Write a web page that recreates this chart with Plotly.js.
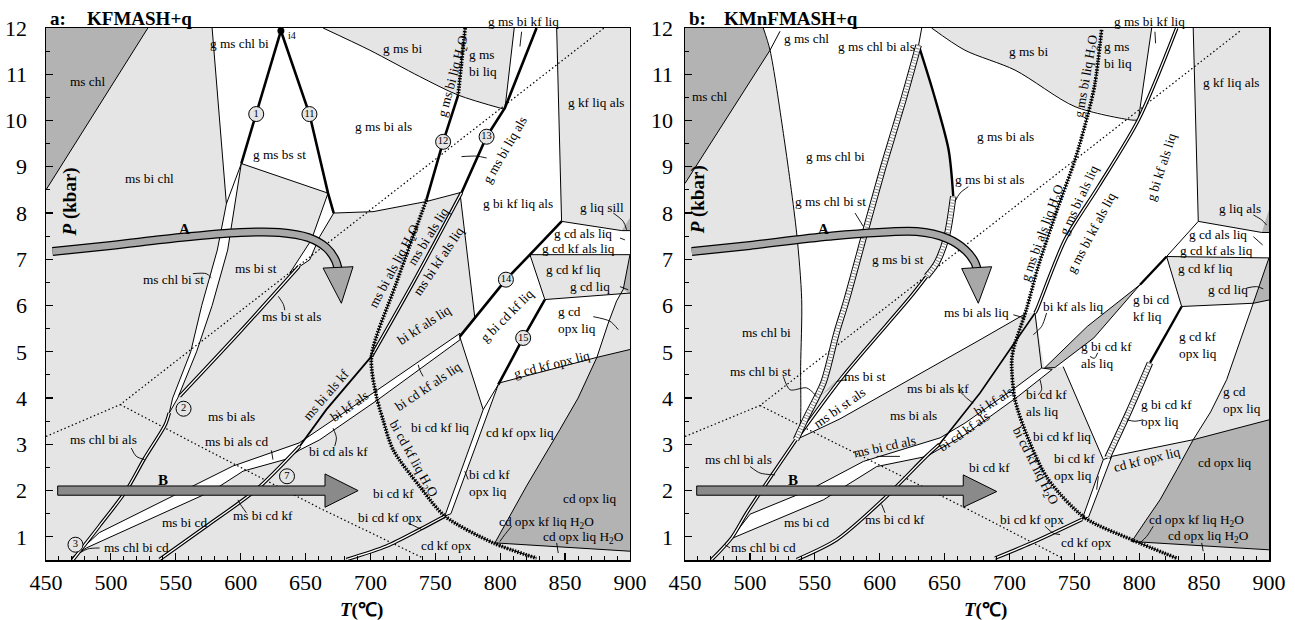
<!DOCTYPE html>
<html><head><meta charset="utf-8">
<script src="https://cdn.plot.ly/plotly-3.0.1.min.js"></script>
<style>html,body{margin:0;padding:0;background:#fff}#chart{width:1295px;height:620px}</style>
</head><body><div id="chart"></div>
<script>
// ================= PANEL a : KFMASH+q  (points are [T °C, P kbar]) =================
const aDarkChl = [[450,8.5],[528.5,12],[450,12]];
const aWhiteTop = [[578,12],[663.5,12],[699.5,11.52],[738,10.95],[767.6,10.55],[803.6,10.24],[789.5,9.65],[770.2,8.44],[743.2,8.25],[702,8.03],[671.7,8.0],[667.3,8.43],[600.5,9.07],[589,8.2]];
const aWhiteRight = [[810.8,12],[843.5,12],[847.3,7.82],[822.9,7.1],[780.5,5.72],[769,8.44],[789.5,9.65],[803.6,10.27]];
const aWhiteGcd = [[847.3,7.82],[893.6,7.62],[900,7.62],[900,7.1],[822.9,7.1]];
const aWhiteBiCd = [[768.8,5.33],[822.9,7.1],[834.4,6.13],[892.3,6.25],[883,5.6],[874.5,4.88],[799.7,4.33],[798.5,4.29],[786.9,3.75]];
const aBandChlSt = [[589,8.2],[582,7.2],[570,6.0],[561.5,5.0],[547.6,4.0],[545,3.68],[551.5,4.0],[566,5.0],[578,6.0],[590,7.2],[600.5,9.07]];
const aBandStAls = [[667.3,8.43],[654.5,7.42],[637.8,6.70],[653.2,6.99],[660.9,7.49],[671.7,8.0]];
const aBandLow = [[470,0.55],[491,1.09],[594,2.53],[645,3.03],[702,4.11],[769,5.4],[769,5.26],[706,3.97],[661,3.1],[645,2.87],[635.2,2.68],[601.8,2.42],[578.6,2.0],[481,0.76]];
const aBandOpx = [[786.9,3.75],[757.3,1.45],[762,1.5],[798.5,4.29]];
const aDarkOpx = [[874.5,4.88],[900,5.05],[900,0.69],[795.9,0.87],[820.3,2.1],[846,3.32],[860,4.0]];
const aDarkSill = [[893.6,7.62],[900,7.9],[900,7.62]];
const aDarkGcd = [[900,7.06],[894.8,6.35],[900,6.25]];

const aThin = [
  [[578,12],[589,8.2]],
  [[600.5,9.07],[667.3,8.43]],
  [[671.7,8.0],[702,8.03],[743.2,8.25],[769,8.44]],
  [[810.8,12],[803.6,10.24]],
  [[843.5,12],[847.3,7.82],[893.6,7.62],[900,7.62]],
  [[822.9,7.1],[900,7.1]],
  [[822.9,7.1],[834.4,6.13],[900,6.27]],
  [[769,8.44],[780.5,5.72]],
  [[768.8,5.33],[786.9,3.75]],
  [[799.7,4.33],[874.5,4.88],[900,5.05]],
  [[900,7.1],[894.8,6.35],[889.7,6.1],[883,5.6],[874.5,4.88],[860,4.0],[846,3.32],[820.3,2.1],[795.9,0.87]],
  [[795.9,0.87],[900,0.69]]
];
const aCurveGmsbi = [[663.5,12],[699.5,11.52],[738,10.95],[767.6,10.55],[803.6,10.24]];
const aThick = [
  [[631,11.94],[612,10.14],[600.5,9.07]],
  [[631,11.94],[653,10.14],[667.3,8.43],[671.7,8.0]],
  [[767.6,10.55],[756,9.54],[743.2,8.29]],
  [[828,12],[803.6,10.27],[789.5,9.65],[770.2,8.44]],
  [[768.8,5.33],[804.4,6.56],[822.9,7.1],[847.3,7.82]],
  [[834.4,6.13],[817.7,5.3],[798.5,4.29]]
];
const aMedium = [[[700.8,4.9],[666,3.75],[645.5,2.96]]];
const aDouble = [
  [[770.2,8.44],[735,6.6],[700.8,4.9]],
  [[645,6.85],[600,5.45],[553,4.04]],
  [[545,3.68],[542,3.43],[526,2.7],[511.8,2.0],[491,1.23],[470.7,0.5]],
  [[645.5,2.96],[612,2.02],[573.5,1.23],[537.5,0.51]],
  [[757.3,1.45],[738,1.16],[712.4,0.8],[681.5,0.51]]
];
const aSolidus = [
  [[773,12],[770,11.2],[767.6,10.55]],
  [[743.2,8.29],[720,6.49],[700.8,4.9],[704.6,4.04],[709.7,3.53],[717.5,2.88],[738,2.09],[757.3,1.45],[794.6,0.87],[828,0.54]]
];
const aDotted = [
  [[450,3.17],[507.2,3.86],[880,12]],
  [[507.2,3.86],[568.4,2.96],[661,1.62],[740,0.55]]
];
const aArrowA = [[455,7.17],[500,7.3],[553,7.47],[600,7.58],[630,7.58],[652,7.47],[666,7.25],[673,6.98],[675,6.8]];
const aArrowAHead = [[663.5,6.81],[686.6,6.84],[677.6,6.05]];
const aArrowB = [[459,2.1],[665,2.1],[665,2.36],[690.5,2.0],[665,1.64],[665,1.9],[459,1.9]];
const aLeaders = [
  [[563.2,6.69],[573.5,6.69],[577.4,6.6]],
  [[629,6.2],[633,6.02],[634,5.9]],
  [[515.7,2.92],[519.6,2.74],[526,2.67]],
  [[623.7,2.87],[624.9,2.67]],
  [[491.3,0.76],[482.2,0.74],[475.8,0.65]],
  [[604.4,1.52],[599.2,1.73],[597.9,1.8]],
  [[672.5,2.96],[673.8,3.14],[671.2,3.35]],
  [[740.6,4.47],[738,4.61],[736.8,4.72]],
  [[772.7,2.42],[775.3,2.24]],
  [[729,1.3],[734.2,1.23],[739.4,1.16]],
  [[808.8,1.23],[803.6,1.05],[799.7,0.9]],
  [[843.5,0.87],[844.7,0.65]],
  [[871.7,5.76],[884.6,5.66],[891,5.48]],
  [[887.1,8.0],[894.8,7.82],[897.4,7.64]],
  [[892.3,7.46],[896.1,7.42]],
  [[892.3,6.41],[898.7,6.34]],
  [[770.2,9.22],[781.8,9.23],[789.5,9.19]],
  [[816.5,11.92],[815.2,11.6]]
];
const aCircleNames = ['1','11','12','13','14','15','2','7','3'];
const aCircleT = [612,653,756,789.5,804.4,817.7,556,635.7,472.7];
const aCircleP = [10.14,10.14,9.54,9.65,6.56,5.3,3.77,2.31,0.83];
const aLabels = [
  ['ms chl',482,10.84,0],['ms bi chl',530,8.75,0],['g ms chl bi',599,11.67,0],['g ms bs st',630,9.26,0],
  ['ms chl bi st',548,6.56,0],['ms bi st',612,6.8,0],['ms bi st als',639,5.77,0],['ms bi als',593,3.6,0],
  ['ms chl bi als',494,3.1,0],['ms bi als cd',597,3.07,0],['bi cd als kf',675.6,2.84,0],['ms bi cd',556.8,1.3,0],
  ['ms chl bi cd',519.5,0.78,0],['ms bi cd kf',617.2,1.46,0],['bi cd kf',717.5,1.93,0],['bi cd kf opx',715,1.41,0],
  ['cd kf opx',758.6,0.81,0],['cd opx liq',869.2,1.84,0],['cd opx kf liq H<sub>2</sub>O',835.7,1.32,0],
  ['cd opx liq H<sub>2</sub>O',864,0.98,0],['bi cd kf<br>opx liq',792,2.17,0],['cd kf opx liq',815.2,3.26,0],
  ['bi cd kf liq',753.5,3.37,0],['bi cd kf als liq',744.4,4.25,-34],['bi kf als liq',741.9,5.58,-33],
  ['bi cd kf liq H<sub>2</sub>O',732.9,2.67,61],['g cd kf opx liq',839.6,4.72,-14],['g cd<br>opx liq',858.9,5.69,0],
  ['g bi cd kf liq',805.4,5.78,-45],['g cd kf liq',856.3,6.77,0],['g cd liq',869.2,6.41,0],['g cd als liq',864,7.56,0],
  ['g cd kf als liq',860,7.23,0],['g liq sill',878.2,8.12,0],['g bi kf liq als',814,8.2,0],['g kf liq als',874.3,10.39,0],
  ['g ms bi',725,11.56,0],['g ms<br>bi liq',787,11.24,0],['g ms bi liq H<sub>2</sub>O',763.7,10.96,-75],
  ['g ms bi als',709.8,9.88,0],['g ms bi liq als',803.6,9.38,-60],['ms bi als liq H<sub>2</sub>O',718.8,6.84,-62],
  ['ms bi als liq',744.4,7.49,-58],['ms bi kf als liq',752.2,6.95,-56],['ms bi als kf',666.1,4.07,-49],
  ['bi kf als',683.5,3.82,-35]
];
const aTopLabels = [['g ms bi kf liq',817.7]];

// ================= PANEL b : KMnFMASH+q =================
const bDarkChl = [[450,12],[510.3,12],[515.5,11.52],[450,8.64]];
const bWhiteBig = [[510.3,12],[640,12],[665.7,11.52],[704.3,11.09],[750.5,10.3],[794.2,10.01],[799.3,10.01],[809.6,12],[841.6,12],[845.5,7.82],[821.1,7.06],[800.6,6.45],[765,5.5],[727,4.65],[719.7,5.84],[713.3,5.84],[677.3,5.26],[569.4,3.55],[535.5,3.1],[538.6,3.39],[539.1,4.68],[539.9,6.13],[536,7.57],[525.8,9.72],[515.5,11.52]];
const bLens = [[630,11.63],[618.2,10.44],[602.8,9.0],[590,7.71],[574.6,6.13],[566.8,5.41],[556.6,4.33],[543.8,3.6],[535.5,3.1],[571,4.45],[623.3,6.17],[636.2,6.63],[643.9,6.92],[651.6,7.49],[656.7,8.36],[653.1,9.37],[641.5,10.59]];
const bMsBiSt = [[554,4.04],[565.6,4.36],[572,4.4]];
const bWhite2 = [[727,4.65],[765,5.5],[800.6,6.45],[821.1,7.06],[832.7,5.98],[887.9,6.05],[880,5.4],[867.4,4.4],[855,3.7],[841.6,3.1],[778.8,2.74],[772.3,2.67],[741.4,4.68]];
const bWhiteGcd = [[845.5,7.82],[894.4,7.58],[900,7.58],[900,7.03],[821.1,7.06]];
const bBandLow = [[486,0.98],[500.1,1.49],[546.3,2.02],[587.4,2.63],[646.5,3.14],[665.7,3.46],[704.3,4.22],[724.8,4.65],[733,4.62],[706.8,4.04],[665.7,3.21],[636.2,2.74],[597.7,2.52],[556.6,1.8],[487.2,0.98]];
const bBandOpx = [[772.3,2.67],[756,1.38],[761,1.43],[778.8,2.74]];
const bLens2 = [[727,4.65],[760,5.55],[800.6,6.45],[765,5.3],[735,4.66]];
const bDarkOpx = [[841.6,3.1],[900,3.53],[900,0.72],[794.2,0.9],[805,1.35],[816,1.8],[829,2.45]];
const bDarkLiqAls = [[894.4,7.58],[900,8.07],[900,7.58]];
const bDarkGcd = [[887.9,6.05],[900,7.03],[900,6.12]];

const bThin = [
  [[450,8.64],[515.5,11.52],[523.2,11.93]],
  [[799.3,10.01],[809.6,12]],
  [[841.6,12],[845.5,7.82],[894.4,7.58],[900,7.58]],
  [[845.5,7.82],[821.1,7.06],[900,7.03]],
  [[821.1,7.06],[832.7,5.98],[887.9,6.05],[900,6.12]],
  [[900,7.03],[887.9,6.05],[880,5.4],[867.4,4.4],[855,3.7],[841.6,3.1],[829,2.45],[816,1.8],[805,1.35],[794.2,0.9]],
  [[778.8,2.74],[841.6,3.1],[900,3.53]],
  [[794.2,0.9],[900,0.72]],
  [[535.5,3.1],[569.4,3.55],[677.3,5.26],[713.3,5.84]],
  [[719.7,5.84],[724.8,4.65]],
  [[741.4,4.68],[772.3,2.67]],
  [[630,11.63],[632.4,12]]
];
const bCurves = [
  [[510.3,12],[515.5,11.52],[525.8,9.72],[536,7.57],[539.9,6.13],[539.1,4.68],[538.6,3.39],[535.5,3.1]],
  [[640,12],[665.7,11.52],[704.3,11.09],[750.5,10.3],[794.2,10.01],[799.3,10.01]]
];
const bThick = [
  [[630,11.63],[641.5,10.59],[653.1,9.37],[656.7,8.36]],
  [[800.6,6.45],[821.1,7.06]],
  [[832.7,5.98],[808.3,4.76]]
];
const bMedium = [[[719.7,5.84],[677.3,4.11],[646,3.0]]];
const bDouble = [
  [[828.9,12],[799.3,10.01],[768.5,8.57],[742.8,7.42],[721,5.91],[719.7,5.84]],
  [[636.2,6.63],[623.3,6.17],[571,4.45],[535.5,3.1]],
  [[535.5,3.1],[518,2.38],[497.6,1.52],[486,0.98],[470.6,0.51]],
  [[646,3.0],[636.2,2.75],[602.8,1.81],[566.9,0.94],[536,0.51]],
  [[756,1.38],[717.1,0.87],[688.9,0.54]]
];
const bHatched = [
  [[630,11.63],[618.2,10.44],[602.8,9.0],[590,7.71],[574.6,6.13],[566.8,5.41],[556.6,4.33],[543.8,3.6],[535.5,3.1]],
  [[656.7,8.36],[651.6,7.49],[643.9,6.92],[636.2,6.63]],
  [[808.3,4.76],[791.6,3.68],[775.5,2.71]]
];
const bSolidus = [[[771,11.96],[765.9,10.8],[760.7,10.16],[750.5,9.15],[737.6,8.14],[722.2,6.85],[713,5.91],[703,5.05],[701.7,4.76],[704.3,3.96],[715.8,3.03],[729.9,2.24],[758.2,1.41],[794.2,0.94],[828.8,0.54]]];
const bDotted = [
  [[450,3.17],[507.8,3.84],[878.9,11.96]],
  [[507.8,3.84],[665.7,1.63],[740.2,0.55]]
];
const bArrowA = [[455.2,7.17],[500,7.3],[561,7.5],[628.5,7.6],[652,7.45],[666,7.2],[673,6.95],[675,6.8]];
const bArrowAHead = [[663.2,6.8],[686.3,6.84],[676,6.05]];
const bArrowB = [[459,2.1],[664.4,2.1],[664.4,2.34],[690.2,1.98],[664.4,1.64],[664.4,1.9],[459,1.9]];
const bLeaders = [
  [[581,8.0],[587.4,7.71]],
  [[668.3,8.57],[661.9,8.43],[658,8.25]],
  [[525.7,4.47],[530.9,4.18],[543.7,4.22],[551.4,4.04]],
  [[574.6,4.4],[566.9,4.36]],
  [[500.1,2.52],[507.8,2.38],[519.4,2.34]],
  [[484.7,0.76],[480.8,0.83]],
  [[604.1,1.52],[601.5,1.7]],
  [[660.6,4.18],[667,4.0],[672.1,3.89]],
  [[597.7,2.74],[615.6,2.74]],
  [[703,5.8],[712,5.73]],
  [[728.6,5.84],[724.8,5.55],[718.4,5.37]],
  [[768,4.98],[765.5,4.86],[762,4.9]],
  [[723.5,4.4],[724.8,4.18],[722.2,4.07]],
  [[803.1,3.53],[796.7,3.5],[790.3,3.53]],
  [[768.5,2.31],[767.2,2.02]],
  [[727.4,1.23],[733.8,1.08],[739,1.05]],
  [[810.8,1.23],[805.7,1.01],[800.6,0.87]],
  [[848.1,0.87],[849.3,0.69]],
  [[887.9,7.96],[894.4,7.85],[898.2,7.74]],
  [[887.9,7.49],[895.1,7.31]],
  [[882.8,6.38],[890.5,6.41],[895.6,6.36]],
  [[812.1,11.92],[812.6,11.67]]
];
const bLabels = [
  ['ms chl',469.1,10.52,0],['g ms chl',543.8,11.78,0],['g ms chl bi als',597.7,11.6,0],['g ms chl bi',565.6,9.22,0],
  ['g ms chl bi st',561.8,8.25,0],['g ms bi st',614.4,6.99,0],['g ms bi st als',685,8.73,0],['g ms bi',714.5,11.49,0],
  ['g ms<br>bi liq',783.9,11.42,0],['g ms bi liq H<sub>2</sub>O',759.5,10.95,-80],['g ms bi als',696.6,9.65,0],
  ['g kf liq als',871.2,10.82,0],['g bi kf als liq',817.3,9.0,-72],['g ms bi als liq H<sub>2</sub>O',726.1,7.57,-70],
  ['g ms bi als liq',753,8.28,-65],['g ms bi kf als liq',763.4,7.57,-62],['ms bi als liq',674.8,5.84,0],
  ['bi kf als liq',749.2,5.98,0],['g bi cd kf<br>als liq',774.9,4.94,0],['g liq als',877.6,8.1,0],
  ['g cd als liq',861,7.53,0],['g cd kf als liq',859.7,7.19,0],['g cd kf liq',850.7,6.81,0],['g cd liq',868.6,6.34,0],
  ['g bi cd<br>kf liq',809.6,5.94,0],['g cd kf<br>opx liq',845.5,5.15,0],['g bi cd kf<br>opx liq',821.1,3.68,0],
  ['g cd<br>opx liq',878.9,3.96,0],['cd opx liq',866,2.6,0],['cd kf opx liq',805.7,2.67,-14],
  ['bi cd kf<br>opx liq',750.5,2.52,0],['bi cd kf liq',740.2,3.17,0],['bi cd kf<br>als liq',728.6,3.9,0],
  ['bi cd kf liq H<sub>2</sub>O',719.7,2.52,63],['bi cd kf',685,2.49,0],['bi cd kf opx',717.1,1.37,0],
  ['cd kf opx',759.5,0.88,0],['cd opx kf liq H<sub>2</sub>O',844.3,1.36,0],['cd opx liq H<sub>2</sub>O',853.2,1.0,0],
  ['ms chl bi',513,5.41,0],['ms chl bi st',507.8,4.58,0],['ms bi st',588.7,4.46,0],['ms bi st als',569.4,3.79,-35],
  ['ms bi als kf',645.2,4.2,0],['ms bi als',625.9,3.63,0],['ms bi cd als',604.1,2.96,-12],['bi kf als',687.5,3.93,-32],
  ['bi cd kf als',665,3.27,-35],['ms chl bi als',491,2.67,0],['ms bi cd',543.8,1.31,0],['ms bi cd kf',611.8,1.37,0],
  ['ms chl bi cd',510.3,0.76,0]
];
const bTopLabels = [['g ms bi kf liq',808.3]];

// ================= drawing =================
const LIGHT = '#e5e5e5', DARK = '#b3b3b3', SERIF = '"Liberation Serif", "Times New Roman", serif';
const LABEL_SIZE = 13.3;
const traces = [];
const annotations = [];
function XY(pts){ return {x: pts.map(p => p[0]), y: pts.map(p => p[1])}; }
function AX(p){ return p === 'a' ? {xaxis:'x', yaxis:'y'} : {xaxis:'x2', yaxis:'y2'}; }
function closed(pts){ return pts.concat([pts[0]]); }
function fillPoly(p, pts, color, lw){
  const d = XY(lw ? closed(pts) : pts);
  traces.push(Object.assign({type:'scatter', mode:'lines', x:d.x, y:d.y, fill:'toself', fillcolor:color,
    line:{color:'black', width: lw || 0}, hoverinfo:'skip'}, AX(p)));
}
function addLine(p, pts, w, color, dash, shape){
  const d = XY(pts);
  traces.push(Object.assign({type:'scatter', mode:'lines', x:d.x, y:d.y,
    line:{color: color || 'black', width: w, dash: dash || 'solid', shape: shape || 'linear', smoothing: 0.8},
    hoverinfo:'skip'}, AX(p)));
}
function addDouble(p, pts, shape){ addLine(p, pts, 3.6, 'black', null, shape); addLine(p, pts, 1.3, 'white', null, shape); }
function addHatched(p, pts){ addLine(p, pts, 6.5, 'black', null, 'spline'); addLine(p, pts, 4.5, 'white', null, 'spline'); addLine(p, pts, 4.5, '#8a8a8a', '1px,2px', 'spline'); }
function addSolidus(p, pts){ addLine(p, pts, 1, 'black', null, 'spline'); addLine(p, pts, 3.8, 'black', '1.4px,1.4px', 'spline'); }
function addArrowCurve(p, pts, head, fillc){
  addLine(p, pts, 9, 'black', null, 'spline'); addLine(p, pts, 6.5, fillc, null, 'spline');
  fillPoly(p, head, fillc, 1);
}
function addLabels(p, list){
  const xr = p === 'a' ? 'x' : 'x2', yr = p === 'a' ? 'y' : 'y2';
  list.forEach(l => annotations.push({xref:xr, yref:yr, x:l[1], y:l[2], text:l[0], textangle:l[3], showarrow:false,
    xanchor:'center', yanchor:'middle', font:{family:SERIF, size:LABEL_SIZE, color:'black'}, align:'left'}));
}
function paperText(x, y, text, size, angle, xanchor){
  annotations.push({xref:'paper', yref:'paper', x:x, y:y, text:text, textangle:angle || 0, showarrow:false,
    xanchor: xanchor || 'center', yanchor:'middle', font:{family:SERIF, size:size, color:'black'}});
}

// panel a
fillPoly('a', aDarkChl, DARK, 0);
fillPoly('a', aWhiteTop, 'white', 0);
fillPoly('a', aWhiteRight, 'white', 0);
fillPoly('a', aWhiteGcd, 'white', 0);
fillPoly('a', aWhiteBiCd, 'white', 0);
fillPoly('a', aDarkOpx, DARK, 0);
fillPoly('a', aDarkSill, DARK, 0);
fillPoly('a', aDarkGcd, DARK, 0);
fillPoly('a', aBandChlSt, 'white', 1);
fillPoly('a', aBandStAls, 'white', 1);
fillPoly('a', aBandLow, 'white', 1);
fillPoly('a', aBandOpx, 'white', 1);
addLine('a', [[450,8.5],[528.5,12]], 1);
aThin.forEach(s => addLine('a', s, 1));
addLine('a', aCurveGmsbi, 1, 'black', null, 'spline');
aDotted.forEach(s => addLine('a', s, 1.2, 'black', '1.5px,2.5px'));
aDouble.forEach(s => addDouble('a', s, 'spline'));
aMedium.forEach(s => addLine('a', s, 1.8));
aThick.forEach(s => addLine('a', s, 2.6));
aSolidus.forEach(s => addSolidus('a', s));
addArrowCurve('a', aArrowA, aArrowAHead, '#a8a8a8');
fillPoly('a', aArrowB, '#8a8a8a', 1);
aLeaders.forEach(s => addLine('a', s, 0.9, 'black', null, 'spline'));
traces.push({type:'scatter', mode:'markers+text', xaxis:'x', yaxis:'y', x:aCircleT, y:aCircleP, text:aCircleNames,
  textposition:'middle center', textfont:{family:SERIF, size:10.5, color:'black'},
  marker:{symbol:'circle', size:15, color:LIGHT, line:{color:'black', width:1}}, hoverinfo:'skip', cliponaxis:false});
traces.push({type:'scatter', mode:'markers', xaxis:'x', yaxis:'y', x:[631], y:[11.94], marker:{size:7, color:'black'}, hoverinfo:'skip', cliponaxis:false});
annotations.push({xref:'x', yref:'y', x:639.5, y:11.83, text:'i4', showarrow:false, font:{family:SERIF, size:10, color:'black'}});
addLabels('a', aLabels);
aTopLabels.forEach(l => annotations.push({xref:'x', yref:'paper', x:l[1], y:1.013, xanchor:'center', yanchor:'middle', text:l[0], showarrow:false, font:{family:SERIF, size:LABEL_SIZE, color:'black'}}));
annotations.push({xref:'x', yref:'y', x:556.8, y:7.66, text:'<b>A</b>', showarrow:false, font:{family:SERIF, size:15, color:'black'}});
annotations.push({xref:'x', yref:'y', x:540, y:2.22, text:'<b>B</b>', showarrow:false, font:{family:SERIF, size:15, color:'black'}});

// panel b
fillPoly('b', bDarkChl, DARK, 0);
fillPoly('b', bWhiteBig, 'white', 0);
fillPoly('b', bLens, LIGHT, 0);
fillPoly('b', bMsBiSt, '#bdbdbd', 0);
fillPoly('b', bWhite2, 'white', 0);
fillPoly('b', bWhiteGcd, 'white', 0);
fillPoly('b', bDarkOpx, DARK, 0);
fillPoly('b', bDarkLiqAls, DARK, 0);
fillPoly('b', bDarkGcd, DARK, 0);
fillPoly('b', bBandLow, 'white', 1);
fillPoly('b', bBandOpx, 'white', 1);
fillPoly('b', bLens2, '#bfbfbf', 1);
bThin.forEach(s => addLine('b', s, 1));
bCurves.forEach(s => addLine('b', s, 1, 'black', null, 'spline'));
bDotted.forEach(s => addLine('b', s, 1.2, 'black', '1.5px,2.5px'));
bDouble.forEach(s => addDouble('b', s, 'spline'));
bMedium.forEach(s => addLine('b', s, 1.6));
bThick.forEach(s => addLine('b', s, 2.4, 'black', null, 'spline'));
bHatched.forEach(s => addHatched('b', s));
bSolidus.forEach(s => addSolidus('b', s));
addArrowCurve('b', bArrowA, bArrowAHead, '#a8a8a8');
fillPoly('b', bArrowB, '#8a8a8a', 1);
bLeaders.forEach(s => addLine('b', s, 0.9, 'black', null, 'spline'));
addLabels('b', bLabels);
bTopLabels.forEach(l => annotations.push({xref:'x2', yref:'paper', x:l[1], y:1.013, xanchor:'center', yanchor:'middle', text:l[0], showarrow:false, font:{family:SERIF, size:LABEL_SIZE, color:'black'}}));
annotations.push({xref:'x2', yref:'y2', x:556.6, y:7.66, text:'<b>A</b>', showarrow:false, font:{family:SERIF, size:15, color:'black'}});
annotations.push({xref:'x2', yref:'y2', x:533.5, y:2.22, text:'<b>B</b>', showarrow:false, font:{family:SERIF, size:15, color:'black'}});

// titles and axis titles
paperText(0.0016, 1.017, '<b>a:</b>', 19, 0, 'left');
paperText(0.0319, 1.017, '<b>KFMASH+q</b>', 19, 0, 'left');
paperText(0.5239, 1.017, '<b>b:</b>', 19, 0, 'left');
paperText(0.5525, 1.017, '<b>KMnFMASH+q</b>', 19, 0, 'left');
paperText(0.02, 0.673, '<b><i>P</i> (kbar)</b>', 19, -90);
paperText(0.5327, 0.677, '<b><i>P</i> (kbar)</b>', 19, -90);
paperText(0.2576, -0.094, '<b><i>T</i>(℃)</b>', 19, 0);
paperText(0.7678, -0.094, '<b><i>T</i>(℃)</b>', 19, 0);

const tickFont = {family:SERIF, size:22, color:'black'};
function xAxis(dom){ return {domain:dom, range:[450,900], tick0:450, dtick:50, ticks:'inside', ticklen:7, tickwidth:1.2, tickcolor:'black',
  showline:true, linecolor:'black', linewidth:1.5, mirror:true, showgrid:false, zeroline:false, tickfont:tickFont, ticklabelstandoff:2,
  minor:{ticks:'inside', ticklen:4, dtick:10, tick0:450, tickcolor:'black', tickwidth:1, showgrid:false}}; }
function yAxis(anchor, standoff){ return {anchor:anchor, range:[0.5,12], tick0:0, dtick:1, ticks:'inside', ticklen:7, tickwidth:1.2, tickcolor:'black',
  showline:true, linecolor:'black', linewidth:1.5, mirror:true, showgrid:false, zeroline:false, tickfont:tickFont, ticklabelstandoff:standoff,
  minor:{ticks:'inside', ticklen:4, dtick:0.5, tick0:0, tickcolor:'black', tickwidth:1, showgrid:false}}; }

const layout = {
  width:1295, height:620, margin:{l:46, r:26, t:28, b:60}, showlegend:false,
  paper_bgcolor:'white', plot_bgcolor:LIGHT,
  xaxis: Object.assign(xAxis([0,0.4775]), {anchor:'y'}),
  yaxis: yAxis('x', 13),
  xaxis2: Object.assign(xAxis([0.5225,1]), {anchor:'y2'}),
  yaxis2: yAxis('x2', 6),
  annotations: annotations
};
Plotly.newPlot('chart', traces, layout, {staticPlot:true, displayModeBar:false});
</script>
</body></html>
